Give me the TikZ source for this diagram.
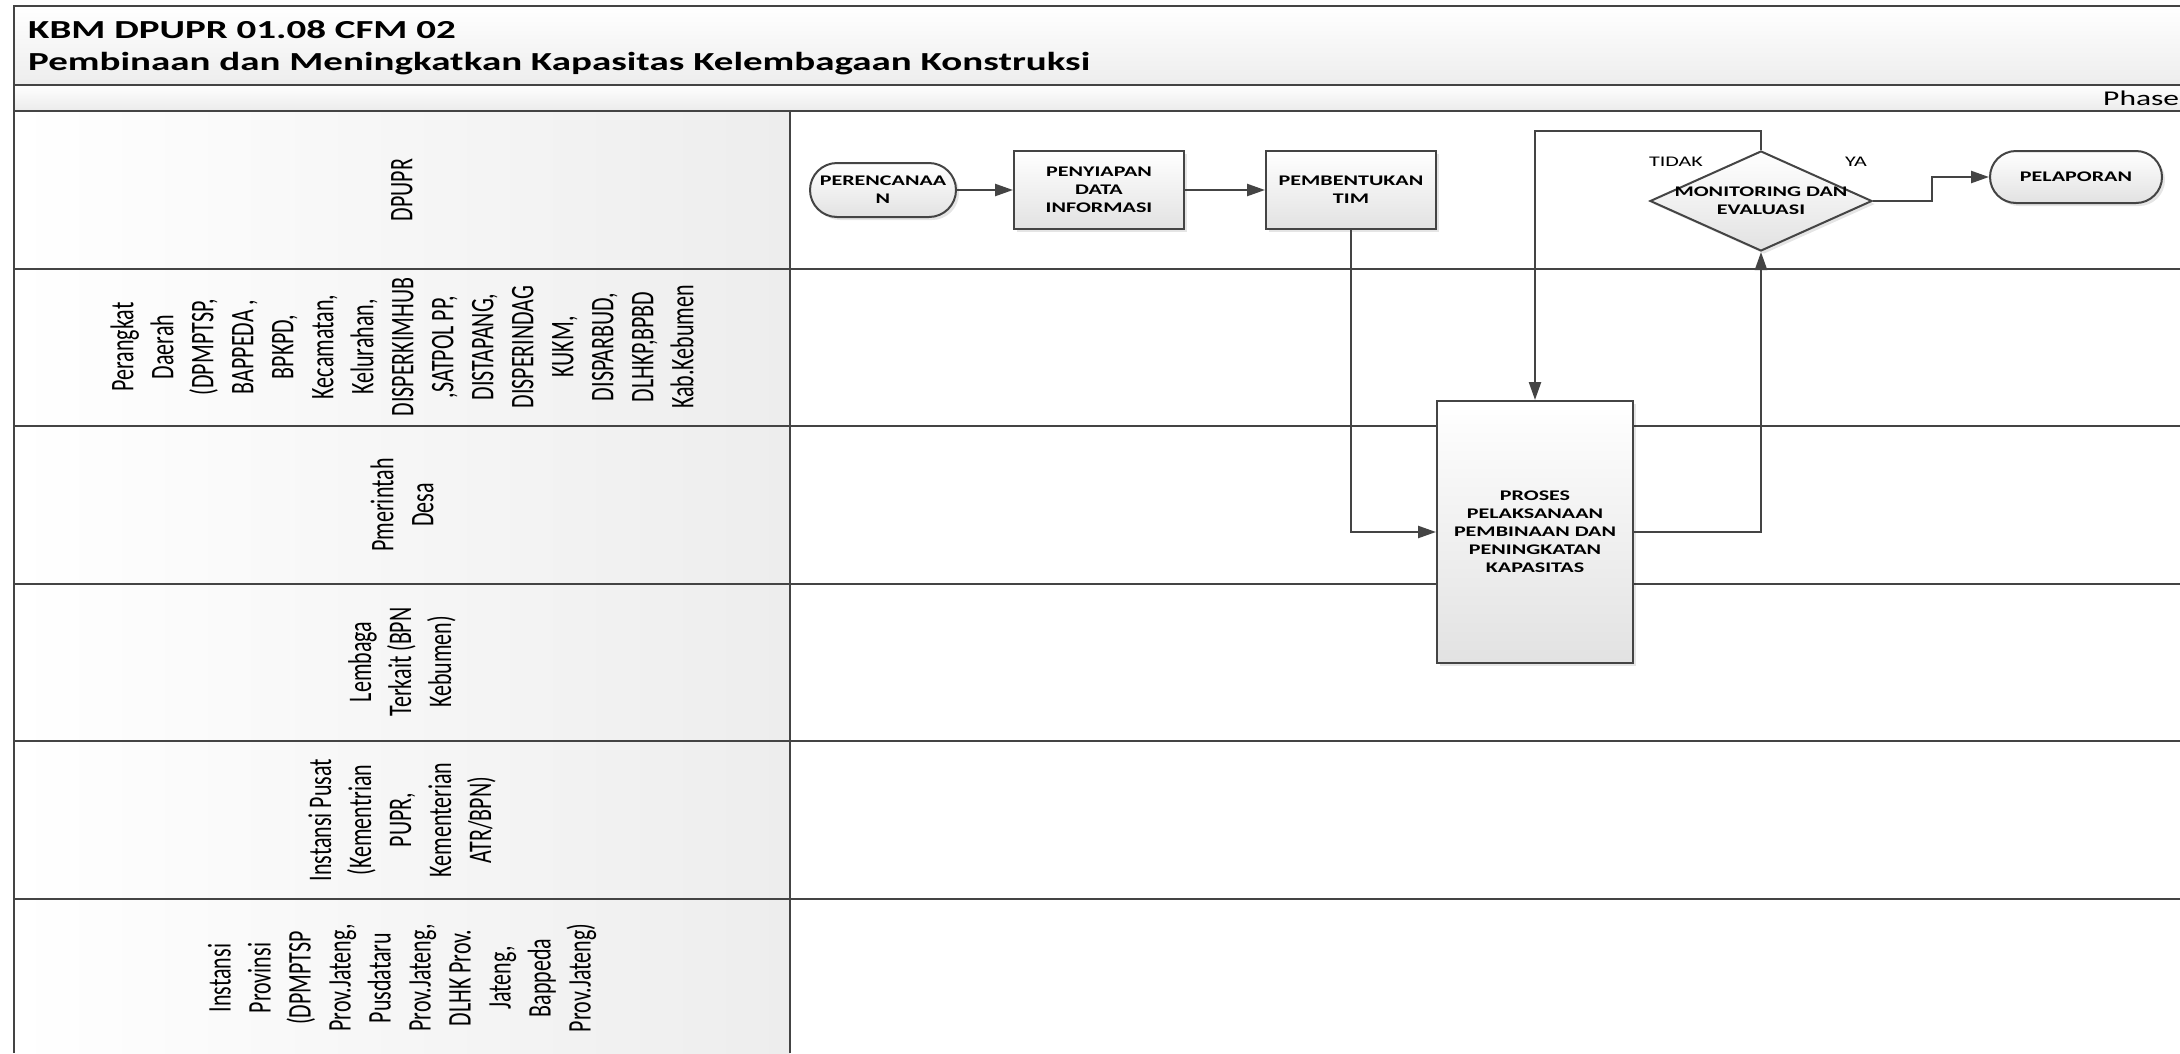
\documentclass[tikz,border=0pt]{standalone}
\usepackage{fontspec}
\usetikzlibrary{shapes.geometric,shapes.misc,arrows.meta,shadows}
\newfontfamily\wide{Carlito}[FakeStretch=1.5]
\newfontfamily\lanef{Carlito}[FakeStretch=0.6667]
\definecolor{ln}{HTML}{444444}
\definecolor{shbot}{HTML}{E2E2E2}
\definecolor{hdr}{HTML}{EDEDED}
\newcommand\shapefont{\wide\bfseries\fontsize{14.7}{18}\selectfont}
\tikzset{
  lanelbl/.style={rotate=90, align=center, inner sep=0pt, text=black,
    font={\lanef\fontsize{33}{40}\selectfont}},
  boxshape/.style={draw=ln, line width=2pt, top color=white, bottom color=shbot,
    general shadow={fill=black, opacity=0.10, shadow xshift=3pt, shadow yshift=-3pt},
    font=\shapefont, align=center, inner sep=0pt, text=black},
  procbox/.style={boxshape, rectangle},
  termbox/.style={boxshape, rounded rectangle},
  decbox/.style={boxshape, diamond},
  lanerule/.style={draw=ln, line width=2pt},
  conn/.style={draw=ln, line width=2.4pt, -{Triangle[length=18pt,width=12pt]}},
  smalllbl/.style={font={\wide\fontsize{14.7}{18}\selectfont}, inner sep=0pt, text=black},
  titlelbl/.style={anchor=base west, inner sep=0pt, font={\wide\bfseries\fontsize{26}{27}\selectfont}},
}
\begin{document}
\begin{tikzpicture}[x=1pt, y=-1pt]
\useasboundingbox (0,0) rectangle (2180,1053);
\fill[white] (0,0) rectangle (2180,1053);
% title and phase bars
\shade[top color=white, bottom color=hdr] (14,6) rectangle (2180,85);
\shade[top color=white, bottom color=gray!16] (14,85) rectangle (2180,111);
% lane header column
\shade[left color=white, right color=hdr] (14,111) rectangle (790,1053);
% rules
\draw[lanerule] (2180,6) -- (14,6) -- (14,1053);
\draw[lanerule] (14,85) -- (2180,85);
\foreach \yy in {111,268.5,426,584,741,898.5}
  \draw[lanerule] (14,\yy) -- (2180,\yy);
\draw[lanerule] (790,111) -- (790,1053);
% title
\node[titlelbl] (t1) at (28,38) {KBM DPUPR 01.08 CFM 02};
\node[titlelbl] (t2) at (28,70) {Pembinaan dan Meningkatkan Kapasitas Kelembagaan Konstruksi};
\node[anchor=base west, inner sep=0pt, font={\wide\fontsize{21}{24}\selectfont}] (phase) at (2103,105) {Phase};
% lane labels
\node[lanelbl] (l1) at (402,190) {DPUPR};
\node[lanelbl] (l2) at (402,347) {Perangkat\\Daerah\\(DPMPTSP,\\BAPPEDA ,\\BPKPD,\\Kecamatan,\\Kelurahan,\\DISPERKIMHUB\\,SATPOL PP,\\DISTAPANG,\\DISPERINDAG\\KUKM,\\DISPARBUD,\\DLHKP,BPBD\\Kab.Kebumen};
\node[lanelbl] (l3) at (402,505) {Pmerintah\\Desa};
\node[lanelbl] (l4) at (402,662) {Lembaga\\Terkait (BPN\\Kebumen)};
\node[lanelbl] (l5) at (402,820) {Instansi Pusat\\(Kementrian\\PUPR,\\Kementerian\\ATR/BPN)};
\node[lanelbl] (l6) at (402,978) {Instansi\\Provinsi\\(DPMPTSP\\Prov.Jateng,\\Pusdataru\\Prov.Jateng,\\DLHK Prov.\\Jateng,\\Bappeda\\Prov.Jateng)};
% shapes
\node[termbox, minimum width=146pt, minimum height=54pt] (per) at (883,190) {PERENCANAA\\N};
\node[procbox, minimum width=170pt, minimum height=78pt] (pen) at (1099,190) {PENYIAPAN\\DATA\\INFORMASI};
\node[procbox, minimum width=170pt, minimum height=78pt] (pem) at (1351,190) {PEMBENTUKAN\\TIM};
\node[procbox, minimum width=196pt, minimum height=262pt] (pro) at (1535,532) {PROSES\\PELAKSANAAN\\PEMBINAAN DAN\\PENINGKATAN\\KAPASITAS};
\node[decbox, minimum width=222pt, minimum height=100pt] (mon) at (1761,201) {};
\node[font=\shapefont, align=center, inner sep=0pt, text=black] (monT) at (1761,201) {MONITORING DAN\\EVALUASI};
\node[termbox, minimum width=172pt, minimum height=52pt] (pel) at (2076,177) {PELAPORAN};
% labels
\node[smalllbl] (tidak) at (1676,162) {TIDAK};
\node[smalllbl] (ya) at (1856,162) {YA};
% connectors
\coordinate (loop) at (1761,131);
\coordinate (yaturn) at (1932,201);
\draw[conn] (per.east) -- (pen.west);
\draw[conn] (pen.east) -- (pem.west);
\draw[conn] (pem.south) |- (pro.west);
\draw[conn] (pro.east) -| (mon.south);
\draw[conn] (mon.north) -- (loop) -| (pro.north);
\draw[conn] (mon.east) -- (yaturn) |- (pel.west);
\end{tikzpicture}
\end{document}
